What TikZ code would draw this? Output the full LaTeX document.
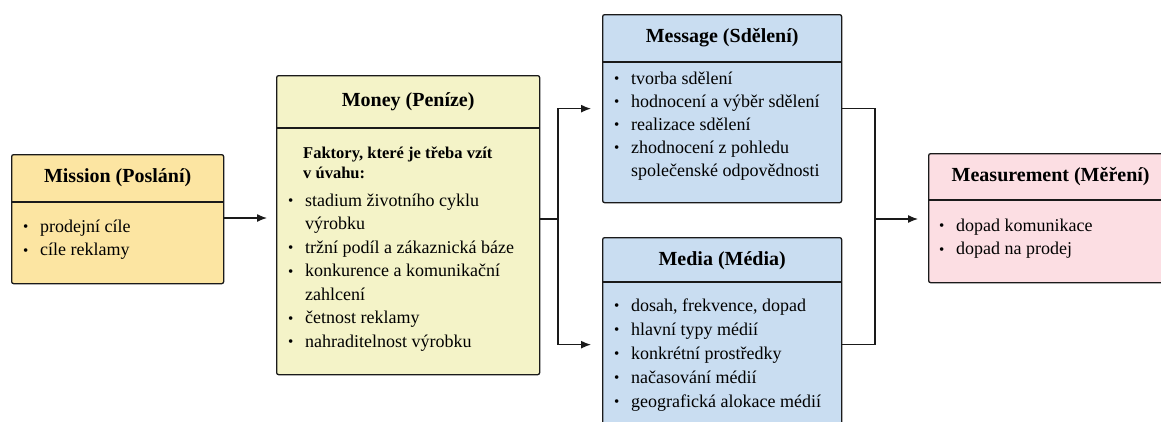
\documentclass[tikz,border=0pt]{standalone}
\usepackage{fontspec}
\setmainfont{Liberation Serif}
\usetikzlibrary{arrows.meta}
\definecolor{cmission}{HTML}{FCE5A2}
\definecolor{cmoney}{HTML}{F4F3C8}
\definecolor{cmsg}{HTML}{C9DDF1}
\definecolor{cmeas}{HTML}{FCDEE3}
\definecolor{cline}{HTML}{1A1A1A}
\newcommand{\itm}{\llap{\makebox[17pt][l]{\fontsize{15}{15}\selectfont\raisebox{0.5pt}{•}}}}
\tikzset{
  box/.style={draw=cline, line width=1.3pt, rounded corners=2pt, anchor=north west, inner sep=0pt},
  head/.style={font=\fontsize{20}{24}\selectfont\bfseries, inner sep=0pt},
  body/.style={font=\fontsize{18}{23.5}\selectfont, inner sep=0pt, anchor=base west},
  divider/.style={line width=1.3pt, draw=cline},
  conn/.style={line width=1.3pt, draw=cline},
  arr/.style={conn, -{Latex[length=10pt,width=8pt]}},
}
\begin{document}
\begin{tikzpicture}[x=1pt,y=-1pt]
\useasboundingbox (0,0) rectangle (1161,421);
\fill[white] (0,0) rectangle (1161,421);
\clip (0,0) rectangle (1161,421);

% Mission
\node[box, fill=cmission, minimum width=212pt, minimum height=129pt] (mission) at (11,154) {};
\draw[divider] (mission.west |- 0,202) -- (mission.east |- 0,202);
\node[head] (missionH) at (mission.north |- 0,178) {Mission (Poslání)};
\node[body] (missionB) at (40,232) {\begin{tabular}[t]{@{}l@{}}\itm prodejní cíle\\ \itm cíle reklamy\end{tabular}};

% Money
\node[box, fill=cmoney, minimum width=263pt, minimum height=299pt] (money) at (276,75) {};
\draw[divider] (money.west |- 0,128) -- (money.east |- 0,128);
\node[head] (moneyH) at (money.north |- 0,102) {Money (Peníze)};
\node[body, font=\fontsize{16.5}{20}\selectfont\bfseries] (moneyF) at (303,158) {\begin{tabular}[t]{@{}l@{}}Faktory, které je třeba vzít\\ v úvahu:\end{tabular}};
\node[body] (moneyB) at (305,206) {\begin{tabular}[t]{@{}l@{}}\itm stadium životního cyklu\\ výrobku\\ \itm tržní podíl a zákaznická báze\\ \itm konkurence a komunikační\\ zahlcení\\ \itm četnost reklamy\\ \itm nahraditelnost výrobku\end{tabular}};

% Message
\node[box, fill=cmsg, minimum width=239pt, minimum height=188pt] (message) at (602,14) {};
\draw[divider] (message.west |- 0,62) -- (message.east |- 0,62);
\node[head] (messageH) at (message.north |- 0,38) {Message (Sdělení)};
\node[body, font=\fontsize{18}{23}\selectfont] (messageB) at (631,84) {\begin{tabular}[t]{@{}l@{}}\itm tvorba sdělení\\ \itm hodnocení a výběr sdělení\\ \itm realizace sdělení\\ \itm zhodnocení z pohledu\\ společenské odpovědnosti\end{tabular}};

% Media
\node[box, fill=cmsg, minimum width=239pt, minimum height=214pt] (media) at (602,237) {};
\draw[divider] (media.west |- 0,282) -- (media.east |- 0,282);
\node[head] (mediaH) at (media.north |- 0,261) {Media (Média)};
\node[body, font=\fontsize{18}{24}\selectfont] (mediaB) at (631,311) {\begin{tabular}[t]{@{}l@{}}\itm dosah, frekvence, dopad\\ \itm hlavní typy médií\\ \itm konkrétní prostředky\\ \itm načasování médií\\ \itm geografická alokace médií\end{tabular}};

% Measurement
\node[box, fill=cmeas, minimum width=244pt, minimum height=129pt] (meas) at (928,153) {};
\draw[divider] (meas.west |- 0,200) -- (meas.east |- 0,200);
\node[head] (measH) at (meas.north |- 0,177) {Measurement (Měření)};
\node[body] (measB) at (956,231) {\begin{tabular}[t]{@{}l@{}}\itm dopad komunikace\\ \itm dopad na prodej\end{tabular}};

% connectors
\coordinate (fork) at (558,219);
\coordinate (join) at (875,219);
\draw[arr, shorten >=9pt] (mission.east |- 0,218) -- (money.west |- 0,218);
\draw[conn] (money.east |- fork) -- (fork);
\draw[arr, shorten >=11pt] (fork) |- (message.west);
\draw[arr, shorten >=11pt] (fork) |- (media.west);
\draw[conn] (message.east) -| (join);
\draw[conn] (media.east) -| (join);
\draw[arr, shorten >=10pt] (join) -- (join -| meas.west);
\end{tikzpicture}
\end{document}
